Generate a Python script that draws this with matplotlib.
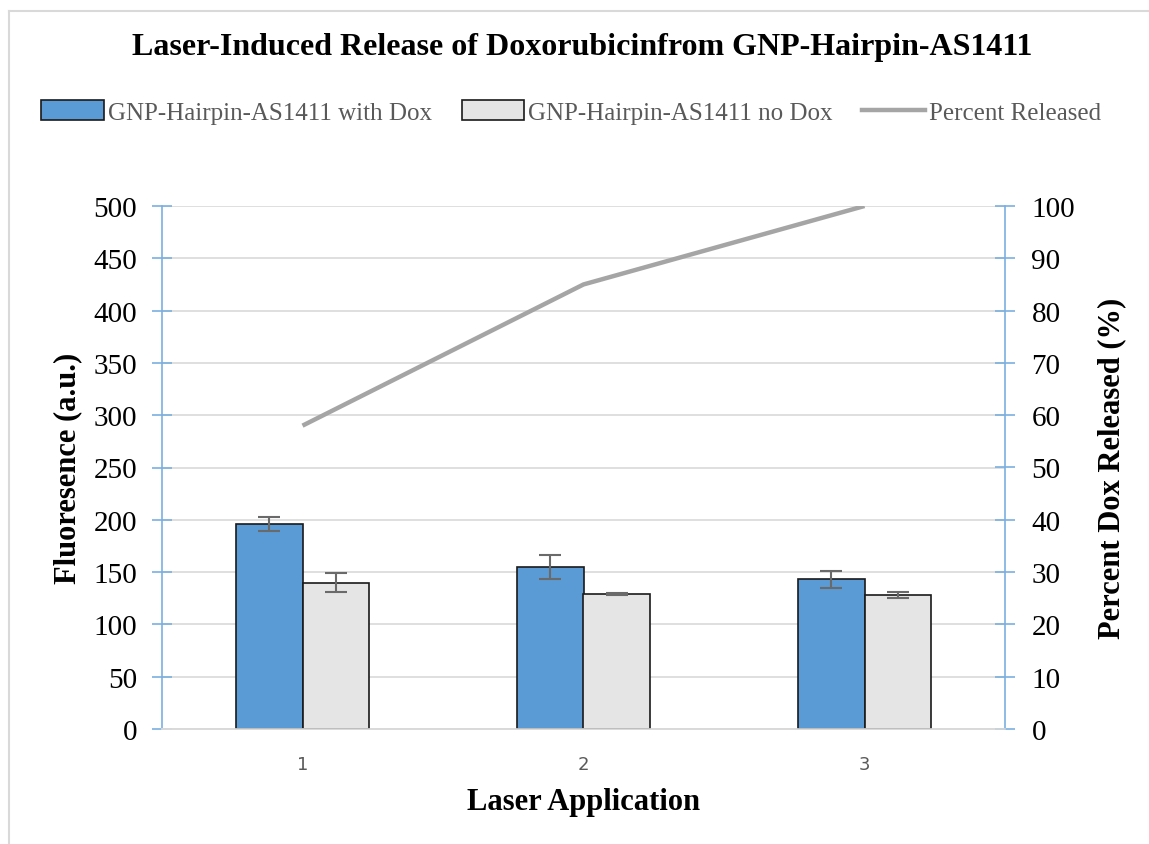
import matplotlib
matplotlib.use("Agg")
import matplotlib.pyplot as plt
from matplotlib.lines import Line2D
import numpy as np

categories = ["1", "2", "3"]
with_dox = [196, 155, 143]
with_dox_err = [6.5, 11.5, 8]
no_dox = [140, 129, 128]
no_dox_err = [9, 0.6, 2.6]
percent_released = [58, 85, 100]

plt.rcParams['font.family'] = ['Liberation Serif', 'DejaVu Serif']

fig = plt.figure(figsize=(11.49, 8.45), dpi=100)
ax = fig.add_axes([162/1149, 1-730/845, (1005-162)/1149, (730-207)/845])
ax2 = ax.twinx()

x = np.arange(1, len(categories) + 1)
w = 0.238
blue = "#5B9BD5"
grey = "#E5E5E5"
axis_blue = "#7BAFE0"

ax.bar(x - w/2, with_dox, w, color=blue, edgecolor="#1a1a1a", linewidth=1.2, zorder=3,
       yerr=with_dox_err, error_kw=dict(ecolor="#6a6a6a", capsize=8, elinewidth=1.5, capthick=1.5, zorder=4))
ax.bar(x + w/2, no_dox, w, color=grey, edgecolor="#1a1a1a", linewidth=1.2, zorder=3,
       yerr=no_dox_err, error_kw=dict(ecolor="#6a6a6a", capsize=8, elinewidth=1.5, capthick=1.5, zorder=4))
ax2.plot(x, percent_released, color="#A5A5A5", linewidth=3.2, solid_capstyle='butt', zorder=5)

ax.set_xlim(0.5, 3.5)
ax.set_ylim(0, 500)
ax.set_yticks(np.arange(0, 501, 50))
ax2.set_ylim(0, 100)
ax2.set_yticks(np.arange(0, 101, 10))
ax.set_xticks(x)
ax.set_xticklabels(categories, fontfamily="DejaVu Sans", fontsize=13, color="#595959")

ax.yaxis.grid(True, color="#D9D9D9", linewidth=1.2, zorder=0)
ax.set_axisbelow(True)

for a in (ax, ax2):
    a.spines['top'].set_visible(False)
    a.spines['bottom'].set_color("#D9D9D9")
    a.spines['bottom'].set_linewidth(1.2)
    a.spines['left'].set_color(axis_blue)
    a.spines['right'].set_color(axis_blue)
    a.spines['left'].set_linewidth(1.2)
    a.spines['right'].set_linewidth(1.2)
ax.spines['right'].set_visible(False)
ax2.spines['left'].set_visible(False)

ax.tick_params(axis='y', direction='inout', length=14, width=1.2, color=axis_blue, labelsize=21, pad=11)
ax2.tick_params(axis='y', direction='inout', length=14, width=1.2, color=axis_blue, labelsize=21, pad=12)
ax.tick_params(axis='x', length=0, pad=19)

ax.set_ylabel("Fluoresence (a.u.)", fontsize=22, fontweight='bold', labelpad=8)
ax2.set_ylabel("Percent Dox Released (%)", fontsize=22, fontweight='bold', labelpad=16)
ax.set_xlabel("Laser Application", fontsize=22, fontweight='bold', labelpad=10)

fig.text(582/1149, 1-48/845, "Laser-Induced Release of Doxorubicinfrom GNP-Hairpin-AS1411",
         ha='center', va='center', fontsize=23, fontweight='bold')

handles = [
    plt.Rectangle((0, 0), 1, 1, facecolor=blue, edgecolor="#1a1a1a", linewidth=1.2),
    plt.Rectangle((0, 0), 1, 1, facecolor=grey, edgecolor="#1a1a1a", linewidth=1.2),
    Line2D([0], [0], color="#A5A5A5", linewidth=3.2),
]
labels = ["GNP-Hairpin-AS1411 with Dox", "GNP-Hairpin-AS1411 no Dox", "Percent Released"]
leg = fig.legend(handles, labels, loc='center', bbox_to_anchor=(571/1149, 1-113/845), ncol=3,
                 frameon=False, fontsize=18, handlelength=2.5, handleheight=0.8,
                 handletextpad=0.15, columnspacing=1.2, labelcolor="#595959")

# chart frame
fig.add_artist(Line2D([9/1149, 9/1149], [0, 1-12/845], color="#D9D9D9", linewidth=1.5, transform=fig.transFigure))
fig.add_artist(Line2D([9/1149, 1], [1-12/845, 1-12/845], color="#D9D9D9", linewidth=1.5, transform=fig.transFigure))

fig.savefig("out.png", dpi=100)
